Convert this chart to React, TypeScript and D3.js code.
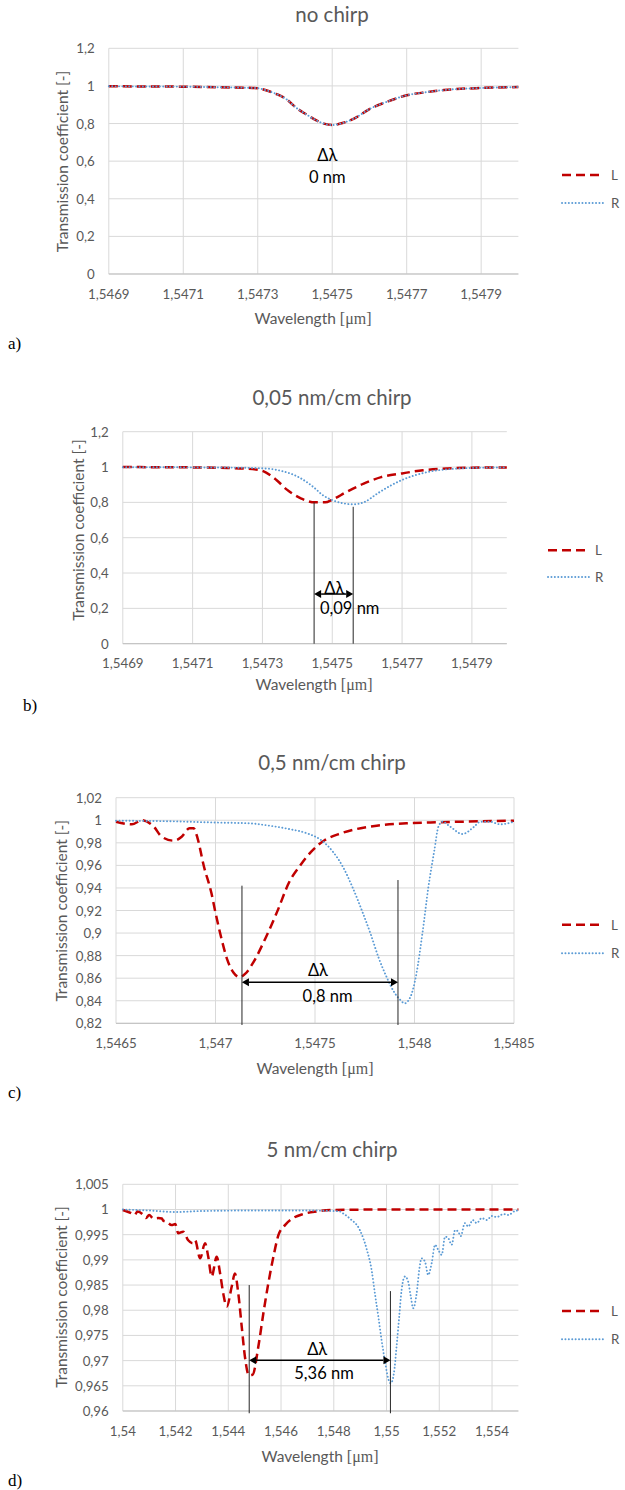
import React from "react";
import * as d3 from "d3";

// ---------------- data ----------------
// a) no chirp (L and R coincide)
const lambdaA = [1.5469, 1.547, 1.5471, 1.5472, 1.5473, 1.54732, 1.54735, 1.54738, 1.5474, 1.54743, 1.54746, 1.54748, 1.5475, 1.54753, 1.54756, 1.5476, 1.54765, 1.5477, 1.54775, 1.5478, 1.5479, 1.548];
const transA_L = [0.998, 0.997, 0.996, 0.993, 0.988, 0.978, 0.957, 0.925, 0.889, 0.849, 0.814, 0.798, 0.792, 0.804, 0.828, 0.877, 0.918, 0.95, 0.966, 0.978, 0.989, 0.994];
const transA_R = [0.998, 0.997, 0.996, 0.993, 0.988, 0.978, 0.957, 0.925, 0.889, 0.849, 0.814, 0.798, 0.792, 0.804, 0.828, 0.877, 0.918, 0.95, 0.966, 0.978, 0.989, 0.994];

// b) 0,05 nm/cm chirp
const lambdaB_L = [1.5469, 1.547, 1.5471, 1.5472, 1.54729, 1.54734, 1.54737, 1.54741, 1.54745, 1.54748, 1.5475, 1.54754, 1.54759, 1.54764, 1.5477, 1.54776, 1.54783, 1.5479, 1.548];
const transB_L = [1.0, 0.999, 0.998, 0.995, 0.984, 0.927, 0.872, 0.823, 0.8, 0.8, 0.815, 0.858, 0.906, 0.943, 0.964, 0.982, 0.992, 0.996, 0.998];
const lambdaB_R = [1.5469, 1.547, 1.5471, 1.5472, 1.5473, 1.54734, 1.54741, 1.54745, 1.54747, 1.5475, 1.54753, 1.54756, 1.54759, 1.54763, 1.54767, 1.5477, 1.54774, 1.54779, 1.54784, 1.5479, 1.548];
const transB_R = [0.999, 0.999, 0.998, 0.997, 0.993, 0.984, 0.936, 0.88, 0.845, 0.813, 0.795, 0.789, 0.8, 0.851, 0.898, 0.927, 0.955, 0.978, 0.989, 0.995, 0.998];

// c) 0,5 nm/cm chirp
const lambdaC_L = [1.5465, 1.54658, 1.54663, 1.54669, 1.54673, 1.54679, 1.54683, 1.54687, 1.54689, 1.54691, 1.54694, 1.54698, 1.547, 1.54703, 1.54706, 1.54709, 1.54712, 1.54715, 1.54719, 1.54725, 1.54731, 1.54737, 1.54743, 1.54748, 1.54755, 1.54763, 1.54773, 1.54781, 1.54796, 1.54808, 1.54823, 1.5485];
const transC_L = [0.9987, 0.9964, 1.0, 0.9943, 0.9854, 0.9819, 0.9854, 0.993, 0.993, 0.984, 0.9603, 0.935, 0.918, 0.895, 0.876, 0.865, 0.861, 0.864, 0.874, 0.895, 0.919, 0.945, 0.961, 0.972, 0.9825, 0.9884, 0.993, 0.9952, 0.9973, 0.998, 0.9987, 0.9996];
const lambdaC_R = [1.5465, 1.5468, 1.547, 1.54717, 1.54727, 1.54737, 1.54746, 1.54753, 1.54759, 1.54764, 1.54769, 1.54774, 1.54778, 1.54782, 1.54786, 1.5479, 1.54793, 1.54795, 1.54798, 1.54801, 1.54804, 1.54807, 1.5481, 1.54812, 1.54814, 1.54818, 1.54824, 1.5483, 1.54833, 1.54838, 1.54843, 1.5485];
const transC_R = [0.9996, 0.999, 0.998, 0.9973, 0.9952, 0.9922, 0.9884, 0.9825, 0.9721, 0.9588, 0.94, 0.918, 0.899, 0.878, 0.861, 0.847, 0.8405, 0.8377, 0.8436, 0.8643, 0.9, 0.9411, 0.9736, 0.9943, 0.9987, 0.9943, 0.9878, 0.9943, 0.9987, 0.9987, 0.9964, 0.9987];

// d) 5 nm/cm chirp
const lambdaD_L = [1.54, 1.54034, 1.54044, 1.54056, 1.54078, 1.54088, 1.541, 1.54116, 1.54134, 1.54148, 1.54153, 1.54166, 1.54185, 1.54199, 1.5421, 1.54229, 1.54248, 1.54265, 1.54274, 1.54293, 1.54312, 1.54324, 1.54337, 1.54356, 1.54369, 1.54381, 1.54394, 1.54413, 1.54425, 1.54438, 1.54451, 1.54463, 1.54478, 1.54492, 1.54514, 1.54533, 1.54552, 1.54571, 1.5459, 1.54615, 1.54646, 1.54684, 1.54735, 1.548, 1.55, 1.555];
const transD_L = [0.9999, 0.9992, 0.9989, 0.9996, 0.9989, 0.9983, 0.9989, 0.9982, 0.9983, 0.9982, 0.9978, 0.9976, 0.9969, 0.9971, 0.9953, 0.9956, 0.9939, 0.9933, 0.9939, 0.9903, 0.9933, 0.9906, 0.9867, 0.9906, 0.9873, 0.9833, 0.9807, 0.9847, 0.9873, 0.9833, 0.9767, 0.9708, 0.9671, 0.9672, 0.9728, 0.9794, 0.9854, 0.9906, 0.9949, 0.9969, 0.9983, 0.9991, 0.9996, 0.9999, 1.0, 1.0];
const lambdaD_R = [1.54, 1.541, 1.542, 1.543, 1.545, 1.547, 1.548, 1.54824, 1.54836, 1.54861, 1.54899, 1.54925, 1.54944, 1.54956, 1.54969, 1.54982, 1.54994, 1.55007, 1.55016, 1.55028, 1.55038, 1.55048, 1.55057, 1.5507, 1.55082, 1.55092, 1.55101, 1.55114, 1.55124, 1.55133, 1.55146, 1.55158, 1.55171, 1.55184, 1.55196, 1.55209, 1.55222, 1.55234, 1.55247, 1.5526, 1.55272, 1.55281, 1.55297, 1.5531, 1.55327, 1.55342, 1.55361, 1.5538, 1.55399, 1.55418, 1.55443, 1.55462, 1.55487, 1.555];
const transD_R = [1.0, 0.9998, 0.9995, 0.9997, 0.9998, 0.9998, 0.9997, 0.9996, 0.9992, 0.9982, 0.9959, 0.9921, 0.9878, 0.9833, 0.9787, 0.9738, 0.9699, 0.9663, 0.9655, 0.9675, 0.9728, 0.9787, 0.984, 0.9867, 0.9857, 0.9827, 0.9804, 0.9833, 0.988, 0.9903, 0.9896, 0.987, 0.9893, 0.993, 0.992, 0.991, 0.9946, 0.9943, 0.993, 0.9959, 0.9956, 0.9947, 0.9973, 0.9966, 0.9979, 0.9973, 0.9983, 0.9979, 0.9987, 0.9985, 0.9991, 0.9989, 0.9997, 0.9998];

// ticks
const xTicksAB = [1.5469, 1.5471, 1.5473, 1.5475, 1.5477, 1.5479];
const yTicksAB = [0, 0.2, 0.4, 0.6, 0.8, 1, 1.2];
const xTicksC = [1.5465, 1.547, 1.5475, 1.548, 1.5485];
const yTicksC = [0.82, 0.84, 0.86, 0.88, 0.9, 0.92, 0.94, 0.96, 0.98, 1, 1.02];
const xTicksD = [1.54, 1.542, 1.544, 1.546, 1.548, 1.55, 1.552, 1.554];
const yTicksD = [0.96, 0.965, 0.97, 0.975, 0.98, 0.985, 0.99, 0.995, 1, 1.005];

const titles = ["no chirp", "0,05 nm/cm chirp", "0,5 nm/cm chirp", "5 nm/cm chirp"];
const panelTags = ["a)", "b)", "c)", "d)"];
const seriesNames = ["L", "R"];
const deltaTexts = ["0 nm", "0,09 nm", "0,8 nm", "5,36 nm"];

// Δλ markers (wavelengths of the two minima)
const markersB = [1.547448, 1.54756];
const markersC = [1.547133, 1.547917];
const markersD = [1.544793, 1.550148];

// ---------------- layout ----------------
const FONT = "Lato, 'Open Sans', 'Noto Sans', sans-serif";
const GREY = "#595959";
const RED = "#C00000";
const BLUE = "#5B9BD5";

type Cfg = {
  lamL: number[]; valL: number[]; lamR: number[]; valR: number[];
  xDomain: [number, number]; yDomain: [number, number];
  xTicks: number[]; yTicks: number[];
  left: number; right: number; top: number; bottom: number;
  title: string; titleY: number;
  yTitle: [number, number]; xTitle: [number, number];
  legendX: [number, number, number]; legendY: [number, number];
  tag: string; tagPos: [number, number];
  markers?: number[]; markerTops?: number[]; markerBottom?: number; arrowAt?: number;
  deltaPos: [number, number]; nmPos: [number, number]; nmText: string;
};

const panels: Cfg[] = [
  {
    lamL: lambdaA, valL: transA_L, lamR: lambdaA, valR: transA_R,
    xDomain: [1.5469, 1.548], yDomain: [0, 1.2], xTicks: xTicksAB, yTicks: yTicksAB,
    left: 108.8, right: 518.4, top: 48.3, bottom: 274,
    title: titles[0], titleY: 21.7,
    yTitle: [61.8, 161.5], xTitle: [313, 317.5],
    legendX: [562, 604, 611], legendY: [175, 203],
    tag: panelTags[0], tagPos: [8, 349],
    deltaPos: [1.547487, 0.633], nmPos: [1.547487, 0.516], nmText: deltaTexts[0],
  },
  {
    lamL: lambdaB_L, valL: transB_L, lamR: lambdaB_R, valR: transB_R,
    xDomain: [1.5469, 1.548], yDomain: [0, 1.2], xTicks: xTicksAB, yTicks: yTicksAB,
    left: 122.8, right: 506.8, top: 431.7, bottom: 643.7,
    title: titles[1], titleY: 405,
    yTitle: [78.4, 530], xTitle: [314, 684],
    legendX: [548, 590, 595], legendY: [550.3, 577],
    tag: panelTags[1], tagPos: [23, 711],
    markers: markersB, markerTops: [0.8, 0.775], markerBottom: 0, arrowAt: 0.281,
    deltaPos: [1.547506, 0.317], nmPos: [1.54755, 0.2004], nmText: deltaTexts[1],
  },
  {
    lamL: lambdaC_L, valL: transC_L, lamR: lambdaC_R, valR: transC_R,
    xDomain: [1.5465, 1.5485], yDomain: [0.82, 1.02], xTicks: xTicksC, yTicks: yTicksC,
    left: 116, right: 514, top: 797.7, bottom: 1023.3,
    title: titles[2], titleY: 770,
    yTitle: [61.4, 910.8], xTitle: [315, 1068],
    legendX: [562, 604, 611], legendY: [924.7, 953.3],
    tag: panelTags[2], tagPos: [8, 1098],
    markers: markersC, markerTops: [0.942, 0.947], markerBottom: 0.8185, arrowAt: 0.8563,
    deltaPos: [1.547515, 0.8673], nmPos: [1.547563, 0.8442], nmText: deltaTexts[2],
  },
  {
    lamL: lambdaD_L, valL: transD_L, lamR: lambdaD_R, valR: transD_R,
    xDomain: [1.54, 1.555], yDomain: [0.96, 1.005], xTicks: xTicksD, yTicks: yTicksD,
    left: 122.8, right: 518.4, top: 1184.3, bottom: 1411,
    title: titles[3], titleY: 1157.3,
    yTitle: [60.6, 1297], xTitle: [320, 1456],
    legendX: [562, 604, 611], legendY: [1311, 1339.3],
    tag: panelTags[3], tagPos: [8, 1486],
    markers: markersD, markerTops: [0.985, 0.9838], markerBottom: 0.95955, arrowAt: 0.97006,
    deltaPos: [1.547372, 0.97225], nmPos: [1.54763, 0.96748], nmText: deltaTexts[3],
  },
];

const fmt = (v: number) => String(+v.toFixed(6)).replace(".", ",");

const L_DASH = "9,5";
const R_DOT = "0.1,3.3";

function Panel({ c }: { c: Cfg }) {
  const x = d3.scaleLinear().domain(c.xDomain).range([c.left, c.right]);
  const y = d3.scaleLinear().domain(c.yDomain).range([c.bottom, c.top]);
  const line = d3
    .line<[number, number]>()
    .x((d) => x(d[0]))
    .y((d) => y(d[1]))
    .curve(d3.curveMonotoneX);
  const dL = line(c.lamL.map((l, i) => [l, c.valL[i]] as [number, number])) || "";
  const dR = line(c.lamR.map((l, i) => [l, c.valR[i]] as [number, number])) || "";

  const head = 7;
  const hh = 4;
  let annot: React.ReactNode = null;
  if (c.markers && c.markerTops && c.arrowAt !== undefined && c.markerBottom !== undefined) {
    const x1 = x(c.markers[0]);
    const x2 = x(c.markers[1]);
    const ya = y(c.arrowAt);
    annot = (
      <g>
        {c.markers.map((m, i) => (
          <line key={i} x1={x(m)} x2={x(m)} y1={y(c.markerTops![i])} y2={y(c.markerBottom!)} stroke="#262626" strokeWidth={1} />
        ))}
        <line x1={x1 + head} x2={x2 - head} y1={ya} y2={ya} stroke="#000" strokeWidth={1.5} />
        <path d={`M${x1},${ya} L${x1 + head},${ya - hh} L${x1 + head},${ya + hh} Z`} fill="#000" />
        <path d={`M${x2},${ya} L${x2 - head},${ya - hh} L${x2 - head},${ya + hh} Z`} fill="#000" />
      </g>
    );
  }

  return (
    <g>
      <text x={332} y={c.titleY} textAnchor="middle" fontFamily={FONT} fontSize={20.5} fill={GREY}>
        {c.title}
      </text>
      {c.yTicks.map((t) => (
        <line key={"h" + t} x1={c.left} x2={c.right} y1={y(t)} y2={y(t)} stroke="#D9D9D9" strokeWidth={1} />
      ))}
      {c.xTicks.map((t) => (
        <line key={"v" + t} x1={x(t)} x2={x(t)} y1={c.top} y2={c.bottom} stroke="#D9D9D9" strokeWidth={1} />
      ))}
      <line x1={c.left} x2={c.right} y1={c.bottom} y2={c.bottom} stroke="#BFBFBF" strokeWidth={1} />
      {c.yTicks.map((t) => (
        <text key={"yl" + t} x={c.left - 14} y={y(t)} textAnchor="end" dominantBaseline="central" fontFamily={FONT} fontSize={13.3} fill={GREY}>
          {fmt(t)}
        </text>
      ))}
      {c.xTicks.map((t) => (
        <text key={"xl" + t} x={x(t)} y={c.bottom + 19.5} textAnchor="middle" dominantBaseline="central" fontFamily={FONT} fontSize={13.3} fill={GREY}>
          {fmt(t)}
        </text>
      ))}
      <text
        transform={`translate(${c.yTitle[0]},${c.yTitle[1]}) rotate(-90)`}
        textAnchor="middle"
        dominantBaseline="central"
        fontFamily={FONT}
        fontSize={15.5}
        fill={GREY}
      >
        Transmission coefficient [-]
      </text>
      <text x={c.xTitle[0]} y={c.xTitle[1]} textAnchor="middle" dominantBaseline="central" fontFamily={FONT} fontSize={15.5} fill={GREY}>
        Wavelength{" "}
        <tspan fontFamily="'Liberation Serif', 'Times New Roman', serif" fontSize={16}>
          [μm]
        </tspan>
      </text>
      <path d={dL} fill="none" stroke={RED} strokeWidth={2.5} strokeDasharray={L_DASH} />
      <path d={dR} fill="none" stroke={BLUE} strokeWidth={1.9} strokeDasharray={R_DOT} strokeLinecap="round" />
      {annot}
      <text x={x(c.deltaPos[0])} y={y(c.deltaPos[1])} textAnchor="middle" dominantBaseline="central" fontFamily={FONT} fontSize={16.5} fill="#000">
        Δλ
      </text>
      <text x={x(c.nmPos[0])} y={y(c.nmPos[1])} textAnchor="middle" dominantBaseline="central" fontFamily={FONT} fontSize={16.5} fill="#000">
        {c.nmText}
      </text>
      {/* legend */}
      <line x1={c.legendX[0]} x2={c.legendX[1]} y1={c.legendY[0]} y2={c.legendY[0]} stroke={RED} strokeWidth={2.5} strokeDasharray={L_DASH} />
      <text x={c.legendX[2]} y={c.legendY[0]} dominantBaseline="central" fontFamily={FONT} fontSize={13.3} fill={GREY}>
        {seriesNames[0]}
      </text>
      <line x1={c.legendX[0]} x2={c.legendX[1]} y1={c.legendY[1]} y2={c.legendY[1]} stroke={BLUE} strokeWidth={1.9} strokeDasharray={R_DOT} strokeLinecap="round" />
      <text x={c.legendX[2]} y={c.legendY[1]} dominantBaseline="central" fontFamily={FONT} fontSize={13.3} fill={GREY}>
        {seriesNames[1]}
      </text>
      <text x={c.tagPos[0]} y={c.tagPos[1]} fontFamily="'Liberation Serif', 'Times New Roman', serif" fontSize={17} fill="#000">
        {c.tag}
      </text>
    </g>
  );
}

export default function App() {
  return (
    <svg
      width={625}
      height={1490}
      viewBox="0 0 625 1490"
      style={{ position: "absolute", left: 0, top: 0, display: "block", background: "#fff" }}
    >
      <rect x={0} y={0} width={625} height={1490} fill="#fff" />
      {panels.map((p, i) => (
        <Panel key={i} c={p} />
      ))}
    </svg>
  );
}
